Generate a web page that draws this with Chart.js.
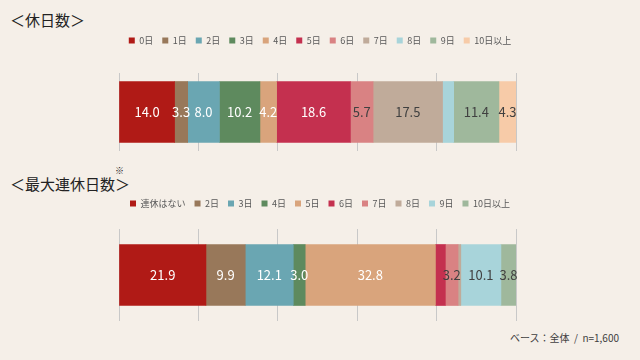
<!DOCTYPE html>
<html>
<head>
<meta charset="utf-8">
<script src="https://cdn.jsdelivr.net/npm/chart.js@4"></script>
<style>
  body { margin: 0; background: #f5efe8; font-family: "Noto Sans CJK JP", sans-serif; }
  #wrap { position: relative; width: 640px; height: 360px; background: #f5efe8; overflow: hidden; }
  .title { position: absolute; left: 10px; font-size: 15px; color: #222; }
  .title sup { position: absolute; font-size: 9px; top: -9px; right: 6px; }
  .chart-box { position: absolute; left: 0; width: 640px; }
  #note { position: absolute; left: 510px; top: 330px; font-size: 10px; color: #404040; white-space: pre; }
</style>
</head>
<body>
<div id="wrap">
  <div class="title" style="top:9px">＜休日数＞</div>
  <div class="title" style="top:173px">＜最大連休日数<sup>※</sup>＞</div>
  <div class="chart-box" style="top:27px;height:126px"><canvas id="chart-days"></canvas></div>
  <div class="chart-box" style="top:190px;height:133px"><canvas id="chart-streak"></canvas></div>
  <div id="note">ベース：全体  /  n=1,600</div>
</div>
<script>
const palette = ["#b01a16", "#98785a", "#6aa6b2", "#5e8a5e", "#d9a47c", "#c4304f",
  "#d98283", "#c0ab9a", "#a8d4da", "#9fb89c", "#f7cba8"];
const labelColors = ["#fff", "#fff", "#fff", "#fff", "#fff", "#fff",
  "#404040", "#404040", "#404040", "#404040", "#404040"];

const dayCategories = ["0日", "1日", "2日", "3日", "4日", "5日", "6日", "7日", "8日", "9日", "10日以上"];
const dayValues = [14.0, 3.3, 8.0, 10.2, 4.2, 18.6, 5.7, 17.5, 2.8, 11.4, 4.3];

const streakCategories = ["連休はない", "2日", "3日", "4日", "5日", "6日", "7日", "8日", "9日", "10日以上"];
const streakValues = [21.9, 9.9, 12.1, 3.0, 32.8, 2.5, 3.2, 0.7, 10.1, 3.8];

const gridTicks = [0, 20, 40, 60, 80, 100];
const fontFamily = '"Noto Sans CJK JP", sans-serif';

// draws the values inside each segment (small ones are skipped, like the original)
const segmentLabels = {
  id: "segmentLabels",
  afterDatasetsDraw(chart) {
    const ctx = chart.ctx;
    ctx.save();
    ctx.font = "13px " + fontFamily;
    ctx.textAlign = "center";
    ctx.textBaseline = "middle";
    chart.data.datasets.forEach((ds, i) => {
      const value = ds.data[0];
      if (value < 3) return;
      const bar = chart.getDatasetMeta(i).data[0];
      ctx.fillStyle = labelColors[i];
      ctx.fillText(value.toFixed(1), (bar.x + bar.base) / 2, bar.y);
    });
    ctx.restore();
  },
};

// hidden axes that only reserve room around the bar
function spacerAxis(type, position, size) {
  return {
    type: type,
    position: position,
    grid: { display: false },
    border: { display: false },
    ticks: { display: false },
    afterFit: (axis) => {
      if (axis.isHorizontal()) axis.height = size;
      else axis.width = size;
    },
  };
}

function buildChart(canvasId, categories, values, gapBelowLegend) {
  return new Chart(document.getElementById(canvasId), {
    type: "bar",
    data: {
      labels: [""],
      datasets: categories.map((name, i) => ({
        label: name,
        data: [values[i]],
        backgroundColor: palette[i],
        borderWidth: 0,
        barThickness: 61,
      })),
    },
    options: {
      indexAxis: "y",
      responsive: true,
      maintainAspectRatio: false,
      animation: false,
      layout: { padding: { top: 0, bottom: 2 } },
      plugins: {
        legend: {
          position: "top",
          labels: {
            boxWidth: 6,
            boxHeight: 6,
            padding: 9,
            color: "#595959",
            font: { size: 9, family: fontFamily },
          },
        },
        tooltip: { enabled: false },
      },
      scales: {
        x: {
          stacked: true,
          min: 0,
          max: 100,
          afterBuildTicks: (axis) => { axis.ticks = gridTicks.map((v) => ({ value: v })); },
          ticks: { display: false },
          grid: { color: "#c8c8c8", drawTicks: false },
          border: { display: false },
        },
        xTop: spacerAxis("linear", "top", gapBelowLegend),
        y: Object.assign(spacerAxis("category", "left", 119), { stacked: true }),
        yRight: spacerAxis("category", "right", 124),
      },
    },
    plugins: [segmentLabels],
  });
}

buildChart("chart-days", dayCategories, dayValues, 18);
buildChart("chart-streak", streakCategories, streakValues, 11);
</script>
</body>
</html>
